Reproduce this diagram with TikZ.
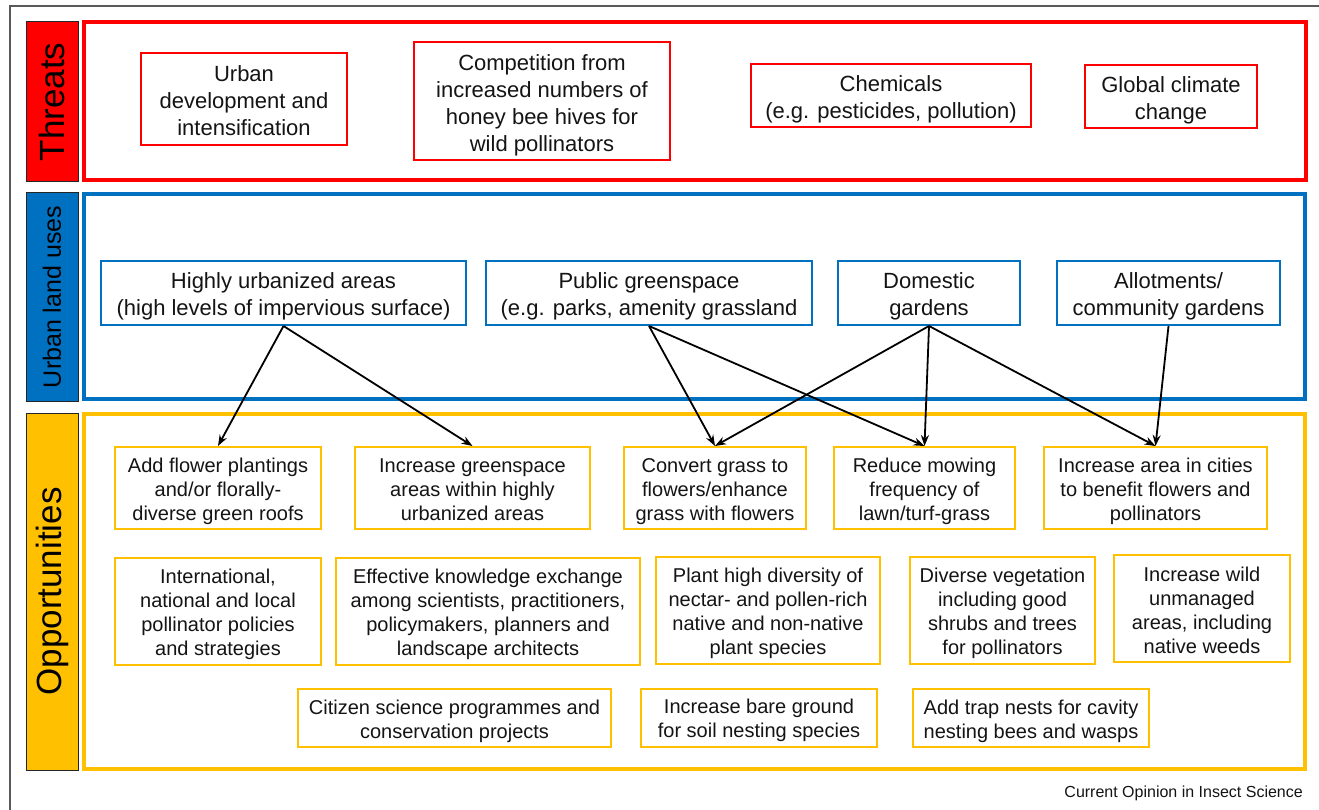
\documentclass[tikz,border=0pt]{standalone}
\usepackage{fontspec}
\setmainfont{Liberation Sans}
\usetikzlibrary{arrows.meta}
\definecolor{tred}{RGB}{255,0,0}
\definecolor{ublue}{RGB}{0,112,192}
\definecolor{oyel}{RGB}{255,192,0}
\definecolor{txt}{RGB}{20,20,20}
\newcommand\topstrutx{\rule{0pt}{1.05em}}
\newcommand\halfstrutx{\rule{0pt}{0.9em}}
\begin{document}
\begin{tikzpicture}[x=1pt,y=-1pt,
  lab/.style={draw=black!85, line width=1pt, rotate=90, inner sep=0pt, text=black},
  grp/.style={line width=4pt},
  ibox/.style={line width=2pt, fill=white, align=center, inner sep=0pt, text=txt},
  tbox/.style={ibox, draw=tred, font=\fontsize{22}{27}\selectfont},
  ubox/.style={ibox, draw=ublue, font=\fontsize{22}{27}\selectfont},
  obox/.style={ibox, draw=oyel, font=\fontsize{20}{24}\selectfont},
  arr/.style={-{Stealth[length=11pt,width=8pt]}, line width=1.8pt, black}
]
\useasboundingbox (0,0) rectangle (1319,810);
\fill[white] (0,0) rectangle (1319,810);
% outer frame
\draw[black!65, line width=1.5pt] (1319,6) -- (10,6) -- (10,810);

% side labels
\node[lab, fill=tred, minimum width=160, minimum height=52, font=\fontsize{35}{40}\selectfont] (lthreat) at (52,102) {Threats};
\node[lab, fill=ublue, minimum width=208, minimum height=52, font=\fontsize{25}{30}\selectfont] (lurban) at (52,297) {Urban land uses};
\node[lab, fill=oyel, minimum width=357, minimum height=52, font=\fontsize{35}{40}\selectfont] (lopp) at (52,591.5) {Opportunities};

% group frames
\draw[grp, tred] (84,22.5) rectangle (1305.5,180.5);
\draw[grp, ublue] (84,194) rectangle (1304.5,399);
\draw[grp, oyel] (84,414) rectangle (1304.5,769);

% threats
\node[tbox, minimum width=206, minimum height=92] (t1) at (244,99) {\halfstrutx Urban\\development and\\intensification};
\node[tbox, minimum width=256, minimum height=118] (t2) at (542,101.5) {\topstrutx Competition from\\increased numbers of\\honey bee hives for\\wild pollinators};
\node[tbox, minimum width=280, minimum height=63] (t3) at (891,95.5) {\topstrutx Chemicals\\(e.g. pesticides, pollution)};
\node[tbox, minimum width=172, minimum height=63] (t4) at (1171,96.5) {\topstrutx Global climate\\change};

% urban land uses
\node[ubox, minimum width=365, minimum height=64] (u1) at (283.5,293) {\topstrutx Highly urbanized areas\\(high levels of impervious surface)};
\node[ubox, minimum width=326, minimum height=64] (u2) at (649,293) {\topstrutx Public greenspace\\(e.g. parks, amenity grassland};
\node[ubox, minimum width=182, minimum height=64] (u3) at (929,293) {\topstrutx Domestic\\gardens};
\node[ubox, minimum width=223, minimum height=64] (u4) at (1168.5,293) {\topstrutx Allotments/\\community gardens};

% opportunities row 1
\node[obox, minimum width=206, minimum height=82] (o1) at (218,488) {\topstrutx Add flower plantings\\and/or florally-\\diverse green roofs};
\node[obox, minimum width=235, minimum height=82] (o2) at (472.5,488) {\halfstrutx Increase greenspace\\areas within highly\\urbanized areas};
\node[obox, minimum width=182, minimum height=82] (o3) at (715,488) {\topstrutx Convert grass to\\flowers/enhance\\grass with flowers};
\node[obox, minimum width=181, minimum height=82] (o4) at (924.5,488) {\topstrutx Reduce mowing\\frequency of\\lawn/turf-grass};
\node[obox, minimum width=223, minimum height=82] (o5) at (1155.5,488) {\topstrutx Increase area in cities\\to benefit flowers and\\pollinators};

% row 2
\node[obox, minimum width=206, minimum height=107] (o6) at (218,611.5) {\topstrutx International,\\national and local\\pollinator policies\\and strategies};
\node[obox, minimum width=304, minimum height=107] (o7) at (488,611.5) {\topstrutx Effective knowledge exchange\\among scientists, practitioners,\\policymakers, planners and\\landscape architects};
\node[obox, minimum width=224, minimum height=107] (o8) at (768,610.5) {\topstrutx Plant high diversity of\\nectar- and pollen-rich\\native and non-native\\plant species};
\node[obox, minimum width=185, minimum height=107] (o9) at (1002.5,610.5) {\topstrutx Diverse vegetation\\including good\\shrubs and trees\\for pollinators};
\node[obox, minimum width=176, minimum height=107] (o10) at (1202,608.5) {\halfstrutx Increase wild\\unmanaged\\areas, including\\native weeds};

% row 3
\node[obox, minimum width=313, minimum height=58] (o11) at (454.5,718) {\topstrutx Citizen science programmes and\\conservation projects};
\node[obox, minimum width=236, minimum height=58] (o12) at (759,717.5) {\topstrutx Increase bare ground\\for soil nesting species};
\node[obox, minimum width=236, minimum height=58] (o13) at (1031,718) {\topstrutx Add trap nests for cavity\\nesting bees and wasps};

% arrows
\draw[arr] (u1.south) -- (o1.north);
\draw[arr] (u1.south) -- (o2.north);
\draw[arr] (u2.south) -- (o3.north);
\draw[arr] (u2.south) -- (o4.north);
\draw[arr] (u3.south) -- (o3.north);
\draw[arr] (u3.south) -- (o4.north);
\draw[arr] (u3.south) -- (o5.north);
\draw[arr] (u4.south) -- (o5.north);

% credit
\node[anchor=east, inner sep=0pt, text=txt, font=\fontsize{16}{19}\selectfont] (credit) at (1303,793) {Current Opinion in Insect Science};
\end{tikzpicture}
\end{document}
